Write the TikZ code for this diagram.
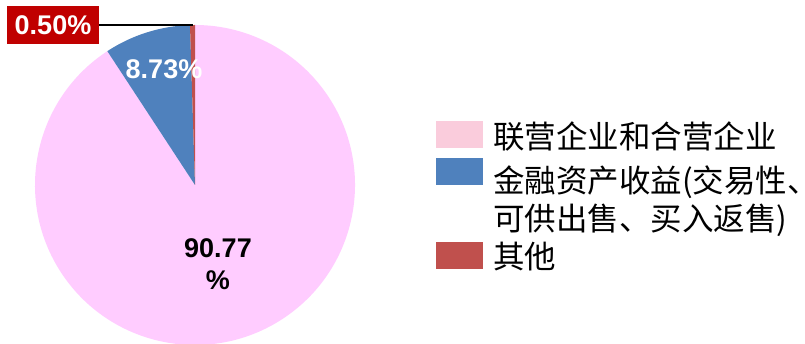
\documentclass[tikz,border=0pt]{standalone}
\usepackage{fontspec}
\setmainfont{Liberation Sans}
\newfontfamily\cjk{Noto Sans CJK SC}
\definecolor{piepink}{HTML}{FFCCFF}
\definecolor{legpink}{HTML}{FACCDC}
\definecolor{pieblue}{HTML}{4F81BD}
\definecolor{piered}{HTML}{C0504D}
\definecolor{boxred}{HTML}{C00000}
\tikzset{
  legsq/.style={minimum width=47pt, minimum height=27pt, inner sep=0pt, draw=none},
  legtxt/.style={anchor=west, inner sep=0pt, align=left, font=\cjk\fontsize{31.5}{38}\selectfont},
  pct/.style={font=\bfseries\fontsize{27}{32}\selectfont, inner sep=0pt}
}
\begin{document}
\begin{tikzpicture}[x=1pt,y=1pt]
\path[use as bounding box, fill=white] (0,0) rectangle (805,344);
\coordinate (c) at (195,159);
\fill[piepink] (c) -- ++(123.23:160) arc[start angle=123.23, end angle=450, radius=160] -- cycle;
\fill[pieblue] (c) -- ++(91.8:160) arc[start angle=91.8, end angle=123.23, radius=160] -- cycle;
\fill[piered] (c) -- ++(90:160) arc[start angle=90, end angle=91.8, radius=160] -- cycle;
\coordinate (top) at (193,319);
% labels
\node[pct, text=white] (lblue) at (164,275) {8.73\%};
\node[pct, align=center, text=black] (lpink) at (218,80) {90.77\\\%};
\node[pct, fill=boxred, text=white, minimum width=92pt, minimum height=38pt] (lred) at (53,319) {0.50\%};
\draw[line width=1.5pt] (lred.east) -- (top);
% legend
\node[legsq, fill=legpink] (s1) at (459.5,209) {};
\node[legsq, fill=pieblue] (s2) at (459.5,172.5) {};
\node[legsq, fill=piered] (s3) at (459.5,88.5) {};
\node[legtxt] (t1) at (493,207) {联营企业和合营企业};
\node[legtxt] (t2) at (493,143) {金融资产收益(交易性、\\可供出售、买入返售)};
\node[legtxt] (t3) at (493,87) {其他};
\end{tikzpicture}
\end{document}
